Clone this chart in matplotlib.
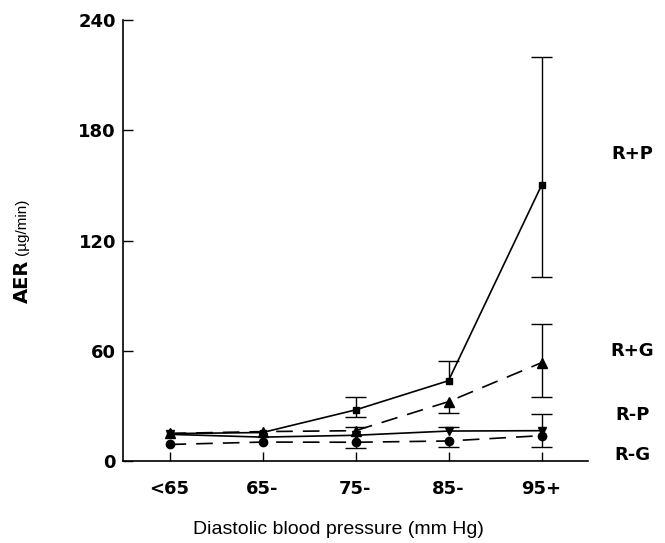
import matplotlib
matplotlib.use("Agg")
import matplotlib.pyplot as plt
import numpy as np

categories = ["<65", "65-", "75-", "85-", "95+"]
series_names = ["R+P", "R+G", "R-P", "R-G"]

rp_plus = [14.9, 15.5, 27.8, 43.7, 150.0]
rg_plus = [15.0, 16.0, 16.5, 32.3, 53.5]
rp_minus = [14.5, 13.0, 14.0, 16.3, 16.5]
rg_minus = [9.0, 10.3, 10.2, 10.9, 13.8]

# error bar extents (lower, upper); 0 = not drawn
rp_plus_lo = [0, 0, 4.0, 0, 50.0]
rp_plus_hi = [0, 0, 6.9, 10.9, 70.0]
rg_plus_lo = [0, 0, 0, 6.3, 18.8]
rg_plus_hi = [0, 0, 1.8, 0, 21.1]
rp_minus_lo = [0, 0, 0, 0, 0]
rp_minus_hi = [0, 0, 0, 2.4, 9.1]
rg_minus_lo = [0, 0, 3.0, 3.4, 6.0]
rg_minus_hi = [0, 0, 0, 0, 0]

y_ticks = [0, 60, 120, 180, 240]
label_y = [167, 60, 25, 3]

fig = plt.figure(figsize=(6.65, 5.43), dpi=100)
ax = fig.add_axes([123/665, 82/543, 465/665, 441/543])

x = np.arange(len(categories))
data = [
    (rp_plus, rp_plus_lo, rp_plus_hi, "-", "s", 4.5),
    (rg_plus, rg_plus_lo, rg_plus_hi, "--", "^", 7),
    (rp_minus, rp_minus_lo, rp_minus_hi, "-", "v", 6),
    (rg_minus, rg_minus_lo, rg_minus_hi, "--", "o", 6),
]
capw = 0.11
for vals, lo, hi, ls, mk, ms in data:
    vals = np.array(vals); lo = np.array(lo); hi = np.array(hi)
    line, = ax.plot(x, vals, color="black", lw=1.2, linestyle=ls,
                    marker=mk, ms=ms, mfc="black", mec="black", zorder=3)
    if ls == "--":
        line.set_dashes((10, 6))
    m = (lo > 0) | (hi > 0)
    ax.vlines(x[m], (vals - lo)[m], (vals + hi)[m], color="black", lw=1.0, zorder=2)
    for xi, v, l, h in zip(x, vals, lo, hi):
        if h > 0:
            ax.hlines(v + h, xi - capw, xi + capw, color="black", lw=1.0, zorder=2)
        if l > 0:
            ax.hlines(v - l, xi - capw, xi + capw, color="black", lw=1.0, zorder=2)

ax.set_xlim(-0.5, 4.5)
ax.set_ylim(0, 240)
ax.set_yticks(y_ticks)
ax.set_xticks(x)
ax.set_xticklabels(categories)
ax.spines["top"].set_visible(False)
ax.spines["right"].set_visible(False)
ax.spines["left"].set_linewidth(1.2)
ax.spines["bottom"].set_linewidth(1.2)
ax.tick_params(axis="y", direction="in", length=7, width=1.0, pad=5)
ax.tick_params(axis="x", direction="in", length=6.5, width=1.0, pad=14)
for lab in ax.get_xticklabels() + ax.get_yticklabels():
    lab.set_fontfamily("DejaVu Sans")
    lab.set_fontweight("bold")
    lab.set_fontsize(13)

for name, ly in zip(series_names, label_y):
    ax.text(4.98, ly, name, fontsize=13, fontweight="bold", family="DejaVu Sans",
            ha="center", va="center", clip_on=False)

fig.text(338/665, 13/543, "Diastolic blood pressure (mm Hg)", fontsize=14,
         family="Liberation Sans", ha="center", va="center")
fig.text(22/665, (543-281)/543, "AER", fontsize=14, fontweight="bold",
         family="DejaVu Sans", rotation=90, ha="center", va="center")
fig.text(22/665, (543-227)/543, "(µg/min)", fontsize=11,
         family="Liberation Sans", rotation=90, ha="center", va="center")

fig.savefig("out.png", dpi=100)
